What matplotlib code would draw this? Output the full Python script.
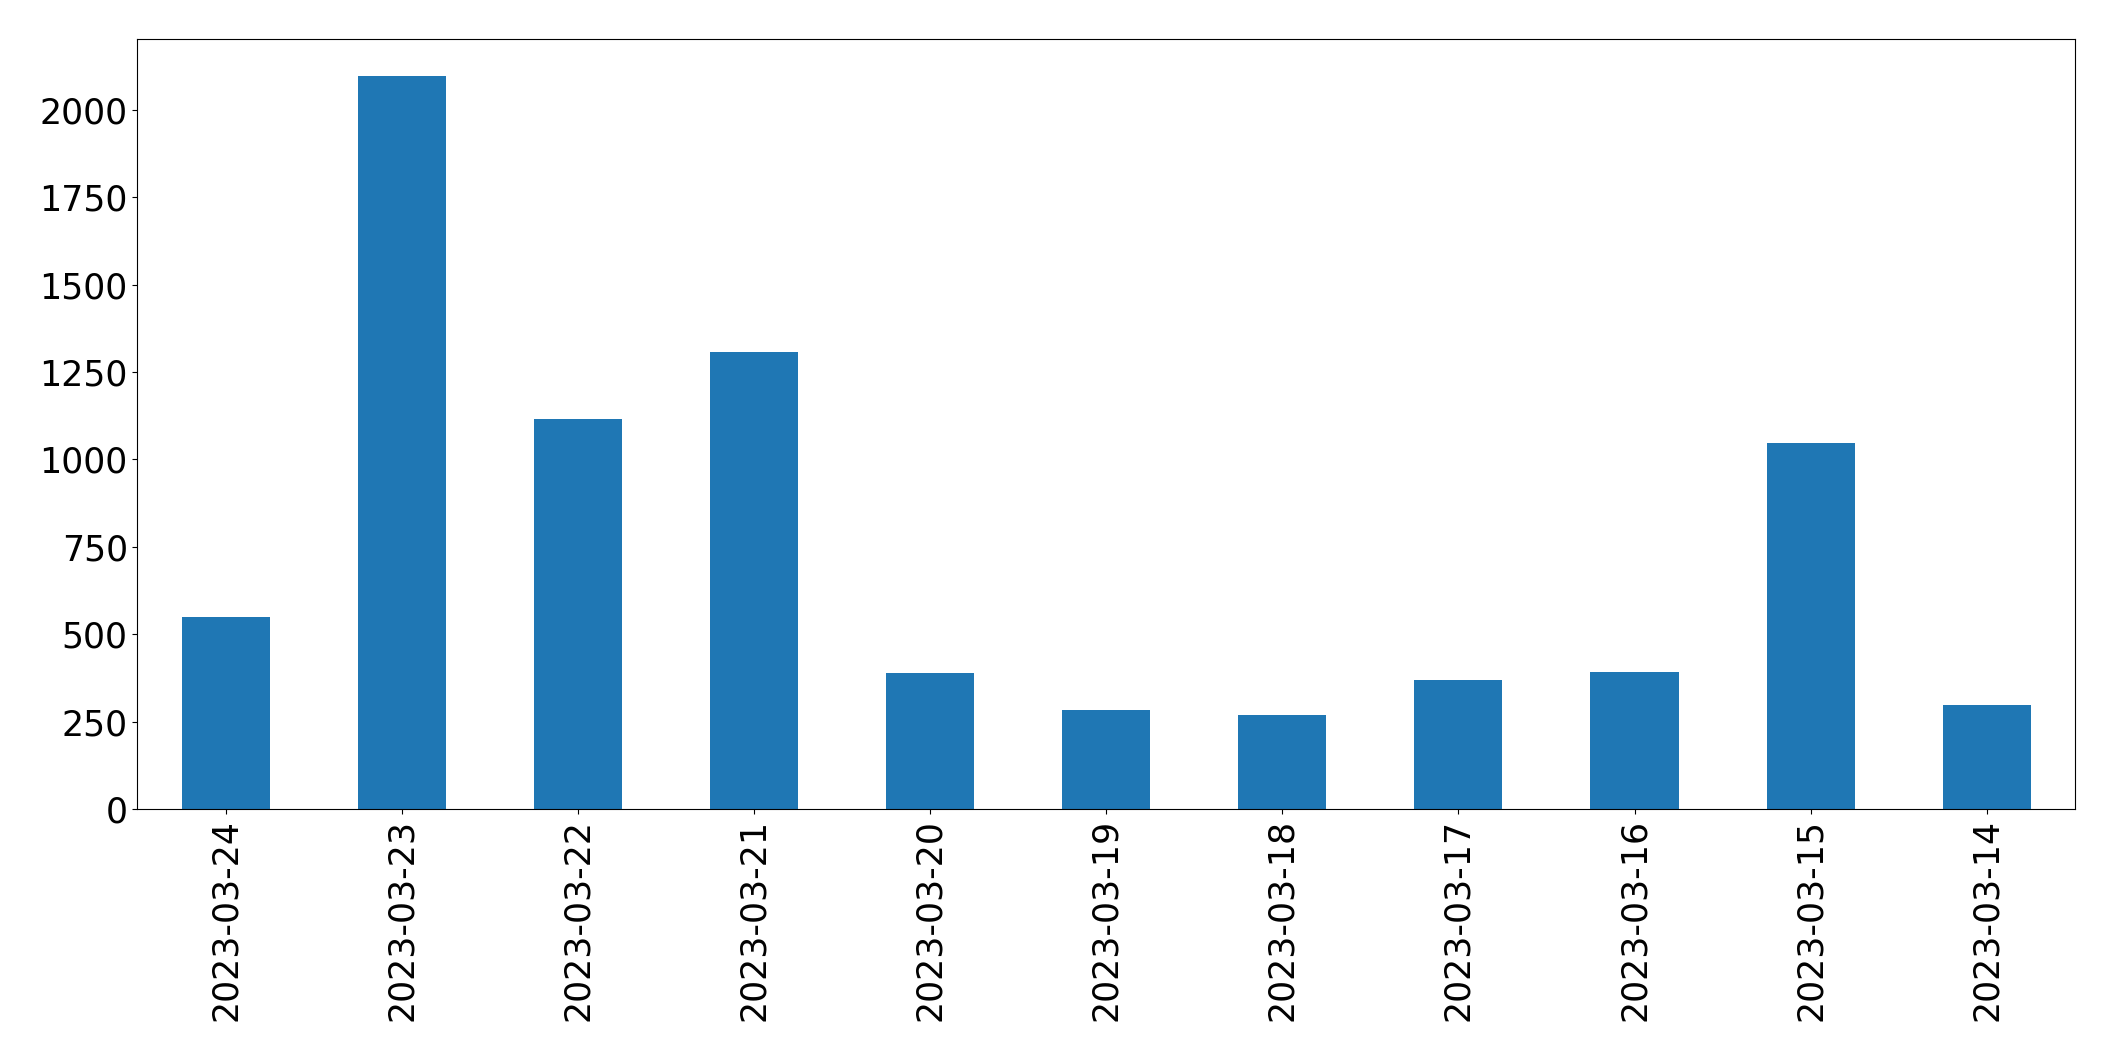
import matplotlib
matplotlib.use("Agg")
import matplotlib.pyplot as plt

# Values
dates = ["2023-03-24", "2023-03-23", "2023-03-22", "2023-03-21", "2023-03-20",
         "2023-03-19", "2023-03-18", "2023-03-17", "2023-03-16", "2023-03-15",
         "2023-03-14"]
counts = [548, 2098, 1115, 1308, 390, 283, 268, 368, 392, 1046, 298]

plt.rcParams["font.size"] = 25

fig = plt.figure(figsize=(21.15, 10.61), dpi=100)
ax = fig.add_axes([0.065, 0.2376, 0.916, 0.7256])

pos = range(len(dates))
ax.bar(pos, counts, width=0.5, color="#1f77b4")
ax.set_xticks(list(pos))
ax.set_xticklabels(dates, rotation=90)
ax.set_xlim(-0.5, len(dates) - 0.5)
ax.set_ylim(0, max(counts) * 1.05)
ax.set_yticks([0, 250, 500, 750, 1000, 1250, 1500, 1750, 2000])

fig.savefig("out.png", dpi=100)
